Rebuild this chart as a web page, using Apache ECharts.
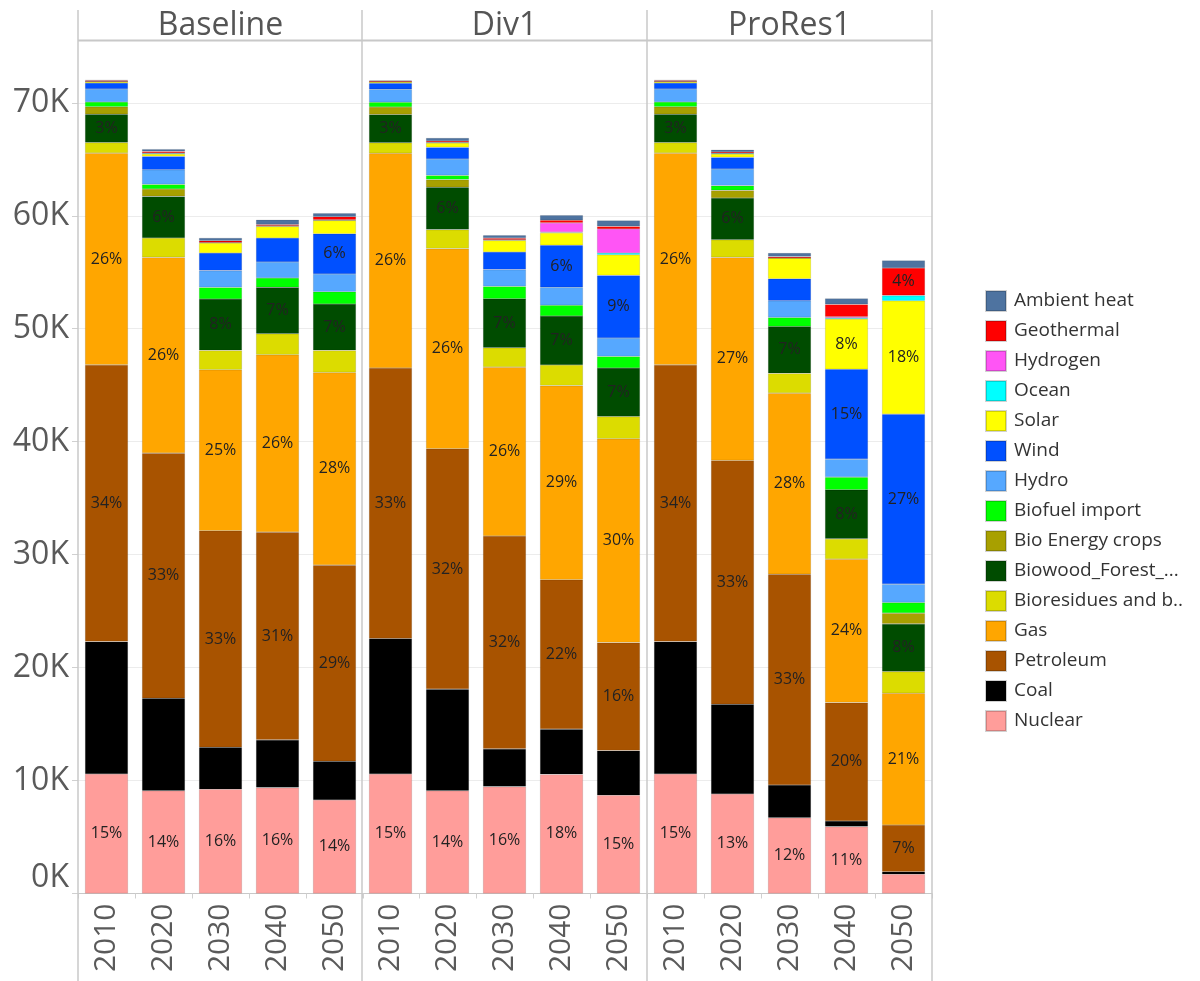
<!DOCTYPE html>
<html>
<head>
<meta charset="utf-8">
<script src="https://cdn.jsdelivr.net/npm/echarts@6/dist/echarts.min.js"></script>
<style>
html,body{margin:0;padding:0;background:#fff;}
#chart{width:1200px;height:981px;}
</style>
</head>
<body>
<div id="chart"></div>
<script>
// ---- data (values in thousands) ----
const years = ['2010', '2020', '2030', '2040', '2050'];
const scenarios = ['Baseline', 'Div1', 'ProRes1'];
const yTicks = [0, 10, 20, 30, 40, 50, 60, 70];

// each array: Baseline 2010..2050, Div1 2010..2050, ProRes1 2010..2050
const nuclear     = [10.58, 9.1, 9.23, 9.37, 8.28,  10.58, 9.1, 9.46, 10.55, 8.7,   10.58, 8.81, 6.71, 5.92, 1.7];
const coal        = [11.72, 8.19, 3.72, 4.23, 3.43, 12.0, 8.99, 3.34, 4.0, 3.95,    11.72, 7.95, 2.9, 0.5, 0.23];
const petroleum   = [24.5, 21.7, 19.16, 18.39, 17.36, 23.95, 21.28, 18.85, 13.23, 9.56, 24.5, 21.58, 18.66, 10.48, 4.14];
const gas         = [18.75, 17.33, 14.26, 15.71, 17.06, 19.0, 17.72, 14.95, 17.18, 18.05, 18.75, 17.98, 16.03, 12.7, 11.66];
const bioresidues = [0.94, 1.71, 1.71, 1.86, 1.95,  0.94, 1.68, 1.72, 1.83, 1.97,   0.94, 1.56, 1.75, 1.8, 1.92];
const biowood     = [2.5, 3.69, 4.55, 4.1, 4.11,    2.5, 3.75, 4.34, 4.34, 4.29,    2.5, 3.7, 4.15, 4.34, 4.22];
const bioCrops    = [0.66, 0.65, 0, 0, 0,           0.66, 0.68, 0, 0, 0,            0.66, 0.67, 0, 0, 0.95];
const biofuel     = [0.42, 0.41, 1.03, 0.83, 1.09,  0.42, 0.38, 1.09, 0.95, 1.03,   0.42, 0.42, 0.8, 1.12, 0.94];
const hydro       = [1.15, 1.3, 1.48, 1.42, 1.57,   1.15, 1.45, 1.48, 1.59, 1.63,   1.15, 1.47, 1.48, 1.6, 1.63];
const wind        = [0.53, 1.18, 1.56, 2.12, 3.56,  0.53, 1.03, 1.56, 3.72, 5.54,   0.53, 1.03, 1.95, 7.95, 15.05];
const solar       = [0.12, 0.21, 0.89, 1.03, 1.18,  0.12, 0.39, 1.03, 1.1, 1.83,    0.12, 0.3, 1.83, 4.45, 10.04];
const ocean       = [0.02, 0.08, 0.05, 0.03, 0,     0.02, 0.03, 0.05, 0.06, 0.15,   0.02, 0.06, 0, 0.1, 0.44];
const hydrogen    = [0, 0, 0, 0.02, 0.05,           0, 0.02, 0, 0.82, 2.13,         0, 0, 0, 0.1, 0.05];
const geothermal  = [0.08, 0.15, 0.15, 0.12, 0.28,  0.08, 0.12, 0.15, 0.24, 0.23,   0.08, 0.12, 0.12, 1.1, 2.41];
const ambient     = [0.05, 0.2, 0.25, 0.42, 0.3,    0.05, 0.27, 0.25, 0.44, 0.53,   0.05, 0.2, 0.32, 0.53, 0.67];

// stacking order bottom -> top
const sources = [
  {name: 'Nuclear', data: nuclear, color: '#ff9d9a'},
  {name: 'Coal', data: coal, color: '#000000'},
  {name: 'Petroleum', data: petroleum, color: '#a85300'},
  {name: 'Gas', data: gas, color: '#ffa600'},
  {name: 'Bioresidues and b..', data: bioresidues, color: '#dcdc00'},
  {name: 'Biowood_Forest_...', data: biowood, color: '#004c00'},
  {name: 'Bio Energy crops', data: bioCrops, color: '#a8a000'},
  {name: 'Biofuel import', data: biofuel, color: '#00ff00'},
  {name: 'Hydro', data: hydro, color: '#56a8ff'},
  {name: 'Wind', data: wind, color: '#0050ff'},
  {name: 'Solar', data: solar, color: '#ffff00'},
  {name: 'Ocean', data: ocean, color: '#00ffff'},
  {name: 'Hydrogen', data: hydrogen, color: '#ff55f5'},
  {name: 'Geothermal', data: geothermal, color: '#ff0000'},
  {name: 'Ambient heat', data: ambient, color: '#4e73a0'}
];

// bar totals for percentage labels
const totals = [];
for (let i = 0; i < 15; i++) {
  let s = 0;
  sources.forEach(src => { s += src.data[i]; });
  totals.push(s);
}

const FONT = 'Open Sans';
const panelLeft = [78, 362, 647];
const panelWidth = 285;
const plotTop = 40.7;
const plotBottom = 981 - 893.5;

const grids = [], xAxes = [], yAxes = [], series = [];
scenarios.forEach((sc, g) => {
  grids.push({left: panelLeft[g], width: panelWidth, top: plotTop, bottom: plotBottom, containLabel: false});
  xAxes.push({
    type: 'category', gridIndex: g, data: years,
    axisLine: {show: true, lineStyle: {color: '#c8c8c8', width: 1}},
    axisTick: {show: true, length: 5, lineStyle: {color: '#d0d0d0'}},
    axisLabel: {rotate: 90, fontSize: 30, color: '#5a5a5a', fontFamily: FONT, margin: 10}
  });
  yAxes.push({
    type: 'value', gridIndex: g, min: 0, max: 75.5, interval: 10,
    axisLine: {show: false},
    axisTick: {show: g === 0, length: 6, lineStyle: {color: '#d0d0d0'}},
    splitLine: {show: true, lineStyle: {color: '#ececec', width: 1}},
    axisLabel: {
      show: g === 0, fontSize: 32, color: '#5a5a5a', fontFamily: FONT, margin: 9,
      showMaxLabel: false,
      verticalAlignMinLabel: 'bottom',
      formatter: v => (yTicks.indexOf(v) >= 0 ? v + 'K' : '')
    }
  });
  sources.forEach(src => {
    series.push({
      type: 'bar', name: src.name, stack: 'st' + g,
      xAxisIndex: g, yAxisIndex: g,
      barWidth: 43,
      data: src.data.slice(g * 5, g * 5 + 5),
      itemStyle: {color: src.color, borderColor: 'rgba(0,0,0,0.18)', borderWidth: 0.6},
      label: {
        show: true, position: 'inside', fontSize: 16, color: '#222', fontFamily: FONT,
        formatter: p => {
          const idx = g * 5 + p.dataIndex;
          if (src.name === 'Coal' || p.value < 2.3) return '';
          return Math.round(p.value / totals[idx] * 100) + '%';
        }
      },
      emphasis: {disabled: true},
      animation: false
    });
  });
});

const graphics = [];
[78, 362, 647, 932].forEach(x => {
  graphics.push({type: 'line', shape: {x1: x, y1: 10, x2: x, y2: 981}, style: {stroke: '#c8c8c8', lineWidth: 1.5}, z: 100});
});
graphics.push({type: 'line', shape: {x1: 78, y1: 40.5, x2: 932, y2: 40.5}, style: {stroke: '#c8c8c8', lineWidth: 2}, z: 100});
scenarios.forEach((sc, g) => {
  graphics.push({
    type: 'text', x: panelLeft[g] + panelWidth / 2, y: 26,
    style: {text: sc, fontSize: 32, fill: '#555', fontFamily: FONT, align: 'center', verticalAlign: 'middle'}
  });
});

const legendOrder = sources.map(s => s.name).reverse();

const chart = echarts.init(document.getElementById('chart'), null, {renderer: 'canvas'});
chart.setOption({
  animation: false,
  backgroundColor: '#fff',
  grid: grids,
  xAxis: xAxes,
  yAxis: yAxes,
  series: series,
  legend: {
    data: legendOrder,
    orient: 'vertical', left: 985, top: 290,
    icon: 'rect', itemWidth: 20, itemHeight: 20, itemGap: 8, padding: 0,
    selectedMode: false,
    textStyle: {fontSize: 19, color: '#333', fontFamily: FONT, padding: [0, 0, 0, 3]}
  },
  graphic: graphics
});
</script>
</body>
</html>
